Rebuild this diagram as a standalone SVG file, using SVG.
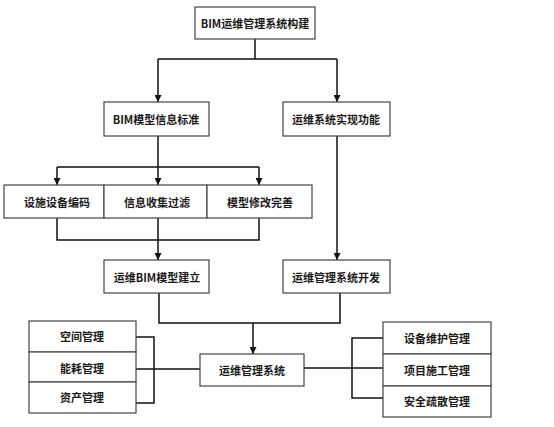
<svg xmlns="http://www.w3.org/2000/svg" width="554" height="427" viewBox="0 0 554 427">
<style>
.box{fill:#fff;stroke:#444;stroke-width:1.2}
.t{font-family:"Noto Sans CJK SC","Liberation Sans",sans-serif;font-size:11px;font-weight:bold;fill:#1a1a1a;text-anchor:middle;dominant-baseline:central}
.c{fill:none;stroke:#111;stroke-width:1.5}
</style>
<defs>
<marker id="ah" viewBox="0 0 10 10" refX="10" refY="5" markerWidth="7" markerHeight="7" markerUnits="userSpaceOnUse" orient="auto">
<path d="M0,0 L10,5 L0,10 z" fill="#111"/>
</marker>
</defs>
<rect width="554" height="427" fill="#fff"/>
<g id="connectors">
<path class="c" d="M255,39 V59 M158,59 H337"/>
<path class="c" d="M158,59 V102" marker-end="url(#ah)"/>
<path class="c" d="M337,59 V102" marker-end="url(#ah)"/>
<path class="c" d="M158,136 V167 M57,167 H259"/>
<path class="c" d="M57,167 V185" marker-end="url(#ah)"/>
<path class="c" d="M158,167 V185" marker-end="url(#ah)"/>
<path class="c" d="M259,167 V185" marker-end="url(#ah)"/>
<path class="c" d="M57,218 V240 H259 V218 M158,218 V240"/>
<path class="c" d="M158,240 V260" marker-end="url(#ah)"/>
<path class="c" d="M337,136 V260" marker-end="url(#ah)"/>
<path class="c" d="M159,293 V323 H340 V293"/>
<path class="c" d="M253,323 V354" marker-end="url(#ah)"/>
<path class="c" d="M136,337 H154 V403 H136 M136,369 H200"/>
<path class="c" d="M383,338 H352 V398 H383 M304,368 H383"/>
</g>
<g id="n1"><rect class="box" x="195" y="7" width="120" height="32"/><text class="t" x="255" y="23">BIM运维管理系统构建</text></g>
<g id="n2"><rect class="box" x="104" y="102" width="105" height="34"/><text class="t" x="156" y="119">BIM模型信息标准</text></g>
<g id="n3"><rect class="box" x="283" y="102" width="107" height="34"/><text class="t" x="336" y="119">运维系统实现功能</text></g>
<g id="n4"><rect class="box" x="4" y="185" width="100" height="33"/><text class="t" x="57" y="202">设施设备编码</text></g>
<g id="n5"><rect class="box" x="104" y="185" width="103" height="33"/><text class="t" x="157" y="202">信息收集过滤</text></g>
<g id="n6"><rect class="box" x="207" y="185" width="105" height="33"/><text class="t" x="260" y="202">模型修改完善</text></g>
<g id="n7"><rect class="box" x="104" y="260" width="105" height="33"/><text class="t" x="157" y="277">运维BIM模型建立</text></g>
<g id="n8"><rect class="box" x="283" y="260" width="107" height="33"/><text class="t" x="336" y="277">运维管理系统开发</text></g>
<g id="n9"><rect class="box" x="200" y="354" width="104" height="32"/><text class="t" x="252" y="370">运维管理系统</text></g>
<g id="n10"><rect class="box" x="29" y="321" width="107" height="31"/><text class="t" x="82" y="336">空间管理</text></g>
<g id="n11"><rect class="box" x="29" y="352" width="107" height="30"/><text class="t" x="82" y="368">能耗管理</text></g>
<g id="n12"><rect class="box" x="29" y="382" width="107" height="31"/><text class="t" x="82" y="397">资产管理</text></g>
<g id="n13"><rect class="box" x="383" y="322" width="108" height="32"/><text class="t" x="437" y="338">设备维护管理</text></g>
<g id="n14"><rect class="box" x="383" y="354" width="108" height="32"/><text class="t" x="437" y="370">项目施工管理</text></g>
<g id="n15"><rect class="box" x="383" y="386" width="108" height="31"/><text class="t" x="437" y="401">安全疏散管理</text></g>
</svg>
